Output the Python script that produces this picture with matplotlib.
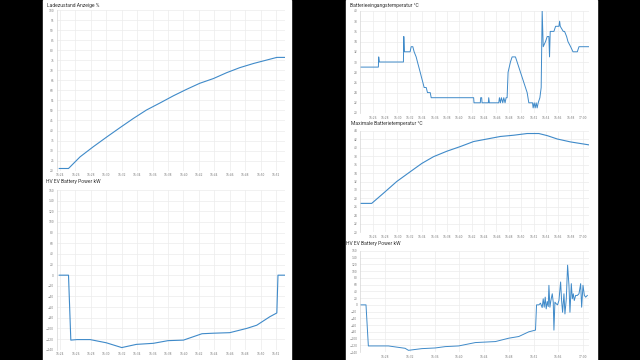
import matplotlib.pyplot as plt
from matplotlib.ticker import FuncFormatter

# ==========================
# Data (time = minutes after 16:00)
# ==========================
soc_t = [23.9, 25.1, 26.6, 28.3, 30.1, 31.8, 33.5, 35.2, 37.0, 38.7, 40.4,
         42.1, 43.9, 45.6, 47.3, 49.1, 50.8, 52.1, 53.1]
soc_v = [21.1, 21.1, 26.9, 31.9, 36.9, 41.5, 46.0, 50.2, 53.8, 57.3, 60.5,
         63.5, 65.9, 68.8, 71.3, 73.4, 75.1, 76.4, 76.4]

pow_left_t = [23.9, 25.1, 25.4, 26.2, 27.9, 30.0, 32.0, 33.9, 36.1, 38.0, 40.0,
              42.4, 43.9, 46.0, 48.2, 49.5, 51.2, 52.1, 52.25, 53.1]
pow_left_v = [0, 0, -122, -121, -121, -127, -136, -130, -128, -123, -122,
              -110, -109, -108, -100, -94, -78, -71, 0, 0]

inlet_t = [23.95, 26.92, 26.97, 27.08, 30.97, 31.03, 31.13, 32.05, 32.22, 32.49,
           32.70, 33.03, 33.24, 33.46, 33.68, 33.89, 34.11, 34.32, 34.65, 34.86,
           35.30, 35.46, 42.32, 42.38, 43.40, 43.46, 43.62, 43.68, 44.70, 44.76,
           44.86, 46.38, 46.49, 46.65, 46.81, 47.03, 47.19, 47.40, 47.57, 47.73,
           47.89, 48.27, 48.54, 49.08, 49.35, 49.62, 49.89, 50.16, 50.43, 50.70,
           50.97, 51.24, 51.84, 51.94, 52.11, 52.27, 52.43, 52.59, 52.76, 53.03,
           53.24, 53.40, 53.57, 53.94, 54.22, 54.48, 54.59, 54.70, 55.30, 55.57,
           56.11, 56.22, 56.32, 56.81, 57.02, 57.35, 57.57, 58.00, 58.38, 59.08,
           59.35, 60.97]
inlet_v = [29, 29, 31, 30, 30, 35, 32, 32, 33, 33,
           32, 31, 30, 29, 28, 27, 26, 25, 25, 24,
           24, 23, 23, 22, 22, 23, 23, 22, 22, 23,
           22, 22, 23, 22, 23, 22, 23, 22, 23, 23,
           28, 30, 31, 31, 30, 29, 28, 27, 26, 25,
           24, 22, 22, 21, 22, 21, 22, 21, 22, 23,
           25, 40, 33, 34, 35, 35, 31, 36, 36, 37,
           37, 38, 37, 36, 36, 35, 34, 33, 32, 32,
           33, 33]

maxt_t = [23.95, 25.84, 27.73, 29.89, 32.05, 33.95, 35.84, 38.0, 40.16, 42.32,
          44.49, 46.65, 48.81, 50.97, 52.86, 54.22, 55.84, 58.0, 60.97]
maxt_v = [26.8, 26.8, 29.2, 32.0, 34.3, 36.3, 37.9, 39.2, 40.3, 41.5,
          42.1, 42.7, 43.0, 43.4, 43.4, 42.9, 42.1, 41.4, 40.7]

pow_right_t = [23.95, 24.92, 25.30, 28.54, 31.24, 31.78, 33.95, 36.11, 37.73, 39.89,
               42.59, 45.84, 48.0, 49.62, 51.24, 52.32, 52.49, 52.86, 53.13, 53.40,
               53.57, 53.73, 53.89, 54.05, 54.22, 54.38, 54.49, 54.65, 54.81, 55.03,
               55.19, 55.30, 55.46, 55.68, 55.89, 56.11, 56.38, 56.54, 56.70, 56.92,
               57.08, 57.30, 57.51, 57.73, 57.89, 58.11, 58.27, 58.43, 58.59, 58.81,
               59.08, 59.35, 59.62, 59.78, 60.0, 60.22, 60.43, 60.70]
pow_right_v = [0, 0, -122, -122, -129, -135, -130, -128, -124, -122,
               -112, -109, -99, -94, -80, -75, 0, 0, 5, -8,
               18, -7, 23, -12, 10, -5, 58, -7, 13, 33,
               8, -75, 8, 3, 0, 13, 68, 13, -22, 33,
               -27, 18, 118, 58, -22, 63, 18, 33, 13, 28,
               28, 33, 63, -7, 58, 28, 23, 28]

left_ticks = list(range(24, 53, 2))
right_ticks = list(range(26, 61, 2))

LINE = "#3f8ac9"
W, H = 640, 360


def hhmm(m, pos=None):
    m = int(round(m))
    return f"{16 + m // 60}:{m % 60:02d}"


def make_ax(fig, x0, x1, y0, y1, title, tx, ty, ylim, ystep, xlim, xticks):
    ax = fig.add_axes([x0 / W, 1 - y1 / H, (x1 - x0) / W, (y1 - y0) / H])
    ax.set_facecolor("white")
    ax.set_xlim(*xlim)
    ax.set_ylim(*ylim)
    ax.set_yticks(range(ylim[0], ylim[1] + 1, ystep))
    ax.set_xticks(xticks)
    ax.xaxis.set_major_formatter(FuncFormatter(hhmm))
    ax.grid(True, color="#ececec", lw=0.5)
    ax.set_axisbelow(True)
    for s in ["top", "right", "bottom"]:
        ax.spines[s].set_visible(False)
    ax.spines["left"].set_color("#d6d6d6")
    ax.spines["left"].set_linewidth(0.5)
    ax.tick_params(length=0, labelsize=2.1, labelcolor="#777777", pad=2)
    fig.text(tx / W, 1 - ty / H, title, fontsize=3.6, family="Roboto",
             color="#333333", va="center", ha="left")
    return ax


fig = plt.figure(figsize=(6.4, 3.6), dpi=100, facecolor="black")

# white panels behind the charts
for px0, px1 in [(43, 291), (346, 597)]:
    fig.patches.append(plt.Rectangle((px0 / W, 0), (px1 - px0) / W, 1,
                                     transform=fig.transFigure, color="white", zorder=-5))

lx = (23.57, 53.16)
rx = (23.95, 60.97)

ax1 = make_ax(fig, 56.7, 285, 10, 170.7, "Ladezustand Anzeige %", 47, 5,
              (20, 100), 5, lx, left_ticks)
ax1.plot(soc_t, soc_v, color=LINE, lw=0.8)

ax2 = make_ax(fig, 56.7, 285, 190, 349.7, "HV EV Battery Power kW", 46, 182,
              (-140, 160), 20, lx, left_ticks)
ax2.plot(pow_left_t, pow_left_v, color=LINE, lw=0.8)

ax3 = make_ax(fig, 360, 589, 11, 113, "Batterieeingangstemperatur °C", 350, 5,
              (20, 40), 2, rx, right_ticks)
ax3.plot(inlet_t, inlet_v, color=LINE, lw=0.7)

ax4 = make_ax(fig, 360, 589, 131, 232, "Maximale Batterietemperatur °C", 351, 124,
              (20, 44), 2, rx, right_ticks)
ax4.plot(maxt_t, maxt_v, color=LINE, lw=0.8)

ax5 = make_ax(fig, 360, 589, 251, 352, "HV EV Battery Power kW", 346, 244,
              (-140, 160), 20, rx, right_ticks[1::2])
ax5.plot(pow_right_t, pow_right_v, color=LINE, lw=0.7)

plt.savefig("out.png", dpi=100, facecolor="black")
plt.close()
